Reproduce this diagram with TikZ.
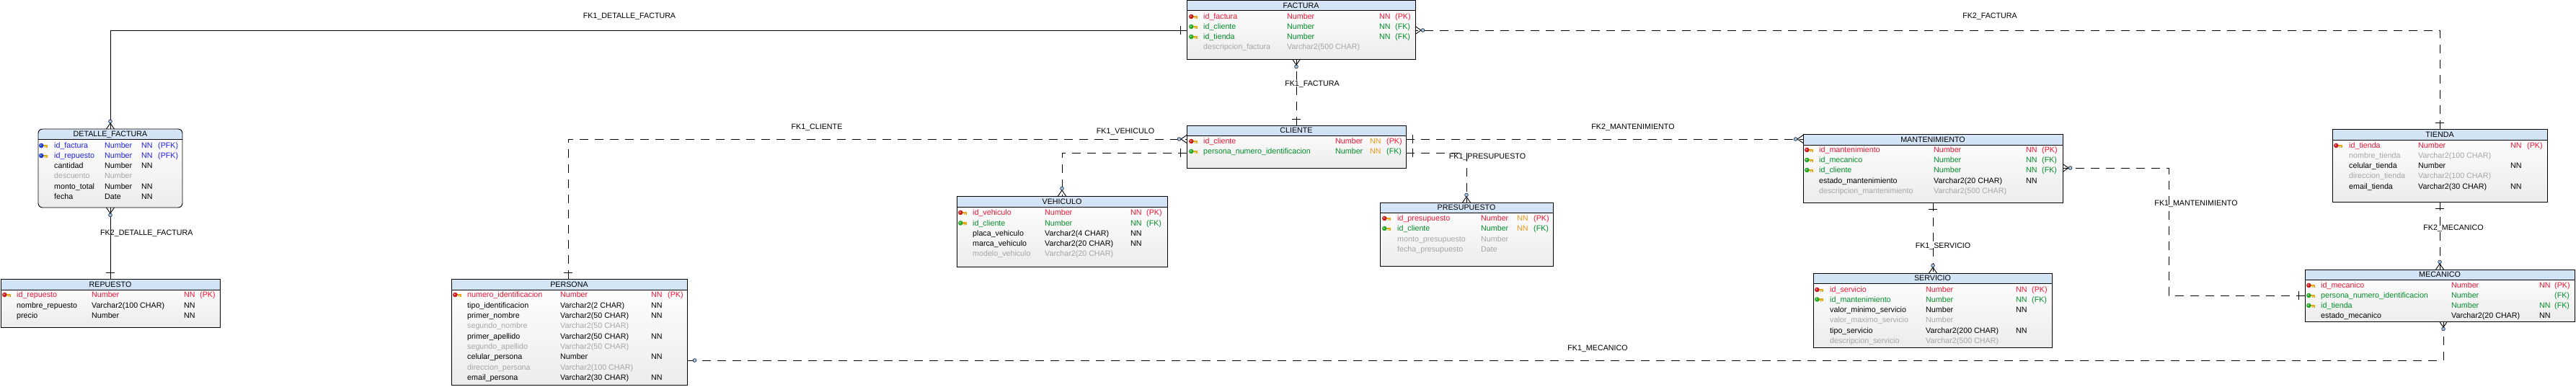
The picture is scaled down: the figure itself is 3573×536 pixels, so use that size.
\documentclass[tikz,border=0pt]{standalone}
\usepackage{fontspec}
\setmainfont{Liberation Sans}
\definecolor{bodybot}{RGB}{236,236,236}
\definecolor{hdtop}{RGB}{214,230,246}
\definecolor{hdbot}{RGB}{176,204,234}
\definecolor{cred}{RGB}{240,20,50}
\definecolor{cgreen}{RGB}{0,140,40}
\definecolor{cblue}{RGB}{30,30,230}
\definecolor{cgray}{RGB}{165,165,165}
\definecolor{corange}{RGB}{235,150,20}
\definecolor{kred}{RGB}{200,30,30}
\definecolor{kgreen}{RGB}{40,170,40}
\definecolor{kblue}{RGB}{30,60,200}
\definecolor{keyshaft}{RGB}{230,170,20}
\definecolor{circfill}{RGB}{160,196,230}
\definecolor{circdraw}{RGB}{50,60,80}
\newcommand\tabfont{\fontsize{10.7}{12}\selectfont}
\newcount\rowc
\tikzset{
 tblnode/.style={draw=none, inner sep=0pt, outer sep=0pt, top color=white, bottom color=bodybot},
 tblline/.style={draw=black, line width=0.95pt},
 hdtext/.style={anchor=base, inner sep=0pt, font=\tabfont, text=black},
 cell/.style={anchor=base west, inner sep=0pt, font=\tabfont},
 lbl/.style={anchor=base, inner sep=0pt, font=\tabfont, text=black},
 rel/.style={draw=black, line width=0.9pt},
 dsh/.style={rel, dash pattern=on 12pt off 9pt},
 endln/.style={draw=black, line width=0.9pt},
 opt/.style={draw=circdraw, fill=circfill, line width=0.7pt},
}
\newcommand\mktable[8]{%
  \node[tblnode, rounded corners=#8pt, minimum width={#4pt-#2pt}, minimum height={#5pt-#3pt}, anchor=north west] (#1) at (#2,#3) {};
  \begin{scope}
    \clip (#2-2,#3-2) rectangle (#4+2,#6);
    \shade[top color=hdtop, bottom color=hdbot, rounded corners=#8pt] (#2,#3) rectangle (#4,#5);
  \end{scope}
  \draw[tblline] (#2,#6) -- (#4,#6);
  \draw[tblline, rounded corners=#8pt] (#2,#3) rectangle (#4,#5);
  \node[hdtext] (#1-t) at ({(#2+#4)/2},{(#3+#6)/2+3.8}) {#7};
}
\newcommand\setcols[5]{\def\cI{#1}\def\cN{#2}\def\cT{#3}\def\cA{#4}\def\cK{#5}}
\newcommand\trow[7]{%
  \if\relax\detokenize{#3}\relax\else
    \fill[keyshaft] (\cI+4,#1-1.3) rectangle (\cI+12,#1+1.3);
    \fill[keyshaft] (\cI+8,#1+1.3) rectangle (\cI+9.4,#1+3.2);
    \fill[keyshaft] (\cI+10.4,#1+1.3) rectangle (\cI+12,#1+2.8);
    \fill[#3] (\cI+3.3,#1) circle (3.3pt);
    \fill[#3!35!white] (\cI+2.6,#1-0.6) circle (1.1pt);
  \fi
  \global\advance\rowc by 1
  \node[cell,text=#2] (r\the\rowc n) at (\cN,#1+3.8) {#4};
  \if\relax\detokenize{#5}\relax\else\node[cell,text=#2] (r\the\rowc t) at (\cT,#1+3.8) {#5};\fi
  \if\relax\detokenize{#6}\relax\else\node[cell,text=#2] (r\the\rowc a) at (\cA,#1+3.8) {#6};\fi
  \if\relax\detokenize{#7}\relax\else\node[cell,text=#2] (r\the\rowc k) at (\cK,#1+3.8) {#7};\fi
}
\newcommand\crow[2]{\begin{scope}[shift={#1}, rotate=#2]
  \draw[endln] (0,-5.5) -- (8,0) -- (0,5.5);
  \draw[opt] (10.5,0) circle (2.4pt);
\end{scope}}
\newcommand\optc[2]{\begin{scope}[shift={#1}, rotate=#2]
  \draw[endln] (0,0) -- (8,0);
  \draw[opt] (10.5,0) circle (2.4pt);
\end{scope}}
\newcommand\parbar[2]{\begin{scope}[shift={#1}, rotate=#2]
  \draw[endln] (9,-6) -- (9,6);
\end{scope}}
\begin{document}
\begin{tikzpicture}[x=1pt,y=-1pt]
\useasboundingbox[fill=white] (0,0) rectangle (3573,536);

% ---------- tables ----------
\mktable{factura}{1646}{0.6}{1963}{82}{14}{FACTURA}{0}
\setcols{1649}{1669}{1785}{1913}{1935}
\trow{23}{cred}{kred}{id\_factura}{Number}{NN}{(PK)}
\trow{37}{cgreen}{kgreen}{id\_cliente}{Number}{NN}{(FK)}
\trow{51}{cgreen}{kgreen}{id\_tienda}{Number}{NN}{(FK)}
\trow{65}{cgray}{}{descripcion\_factura}{Varchar2(500 CHAR)}{}{}

\mktable{detalle}{53}{179}{253}{288}{193}{DETALLE\_FACTURA}{6}
\setcols{54}{75}{145}{196}{219}
\trow{202}{cblue}{kblue}{id\_factura}{Number}{NN}{(PFK)}
\trow{216}{cblue}{kblue}{id\_repuesto}{Number}{NN}{(PFK)}
\trow{230}{black}{}{cantidad}{Number}{NN}{}
\trow{244}{cgray}{}{descuento}{Number}{}{}
\trow{259}{black}{}{monto\_total}{Number}{NN}{}
\trow{273}{black}{}{fecha}{Date}{NN}{}

\mktable{repuesto}{1}{387}{305}{454}{402}{REPUESTO}{0}
\setcols{3}{23}{127}{255}{277}
\trow{409}{cred}{kred}{id\_repuesto}{Number}{NN}{(PK)}
\trow{424}{black}{}{nombre\_repuesto}{Varchar2(100 CHAR)}{NN}{}
\trow{438}{black}{}{precio}{Number}{NN}{}

\mktable{persona}{626}{387}{953}{534}{402}{PERSONA}{0}
\setcols{628}{648}{777}{903}{926}
\trow{409}{cred}{kred}{numero\_identificacion}{Number}{NN}{(PK)}
\trow{423.5}{black}{}{tipo\_identificacion}{Varchar2(2 CHAR)}{NN}{}
\trow{438}{black}{}{primer\_nombre}{Varchar2(50 CHAR)}{NN}{}
\trow{452}{cgray}{}{segundo\_nombre}{Varchar2(50 CHAR)}{}{}
\trow{467}{black}{}{primer\_apellido}{Varchar2(50 CHAR)}{NN}{}
\trow{481}{cgray}{}{segundo\_apellido}{Varchar2(50 CHAR)}{}{}
\trow{495}{black}{}{celular\_persona}{Number}{NN}{}
\trow{510}{cgray}{}{direccion\_persona}{Varchar2(100 CHAR)}{}{}
\trow{524}{black}{}{email\_persona}{Varchar2(30 CHAR)}{NN}{}

\mktable{vehiculo}{1327}{272}{1619}{370}{287}{VEHICULO}{0}
\setcols{1329}{1349}{1449}{1568}{1590}
\trow{295}{cred}{kred}{id\_vehiculo}{Number}{NN}{(PK)}
\trow{309.5}{cgreen}{kgreen}{id\_cliente}{Number}{NN}{(FK)}
\trow{324}{black}{}{placa\_vehiculo}{Varchar2(4 CHAR)}{NN}{}
\trow{338}{black}{}{marca\_vehiculo}{Varchar2(20 CHAR)}{NN}{}
\trow{352}{cgray}{}{modelo\_vehiculo}{Varchar2(20 CHAR)}{}{}

\mktable{cliente}{1646}{174}{1950}{233}{188}{CLIENTE}{0}
\setcols{1649}{1669}{1852}{1900}{1923}
\trow{196}{cred}{kred}{id\_cliente}{Number}{{\color{corange}NN}}{(PK)}
\trow{210}{cgreen}{kgreen}{persona\_numero\_identificacion}{Number}{{\color{corange}NN}}{(FK)}

\mktable{presupuesto}{1914}{281}{2154}{369}{295}{PRESUPUESTO}{0}
\setcols{1917}{1938}{2054}{2104}{2127}
\trow{303}{cred}{kred}{id\_presupuesto}{Number}{{\color{corange}NN}}{(PK)}
\trow{317}{cgreen}{kgreen}{id\_cliente}{Number}{{\color{corange}NN}}{(FK)}
\trow{332}{cgray}{}{monto\_presupuesto}{Number}{}{}
\trow{346}{cgray}{}{fecha\_presupuesto}{Date}{}{}

\mktable{mantenimiento}{2501}{186}{2861}{281}{201}{MANTENIMIENTO}{0}
\setcols{2503}{2523}{2682}{2810}{2832}
\trow{208}{cred}{kred}{id\_mantenimiento}{Number}{NN}{(PK)}
\trow{222}{cgreen}{kgreen}{id\_mecanico}{Number}{NN}{(FK)}
\trow{236}{cgreen}{kgreen}{id\_cliente}{Number}{NN}{(FK)}
\trow{251}{black}{}{estado\_mantenimiento}{Varchar2(20 CHAR)}{NN}{}
\trow{265}{cgray}{}{descripcion\_mantenimiento}{Varchar2(500 CHAR)}{}{}

\mktable{servicio}{2515}{379}{2846}{482}{393}{SERVICIO}{0}
\setcols{2517}{2538}{2671}{2796}{2818}
\trow{402}{cred}{kred}{id\_servicio}{Number}{NN}{(PK)}
\trow{415.5}{cgreen}{kgreen}{id\_mantenimiento}{Number}{NN}{(FK)}
\trow{430}{black}{}{valor\_minimo\_servicio}{Number}{NN}{}
\trow{444}{cgray}{}{valor\_maximo\_servicio}{Number}{}{}
\trow{459}{black}{}{tipo\_servicio}{Varchar2(200 CHAR)}{NN}{}
\trow{473}{cgray}{}{descripcion\_servicio}{Varchar2(500 CHAR)}{}{}

\mktable{tienda}{3235}{179}{3533}{280}{194}{TIENDA}{0}
\setcols{3237}{3258}{3354}{3482}{3505}
\trow{202}{cred}{kred}{id\_tienda}{Number}{NN}{(PK)}
\trow{216}{cgray}{}{nombre\_tienda}{Varchar2(100 CHAR)}{}{}
\trow{230}{black}{}{celular\_tienda}{Number}{NN}{}
\trow{244}{cgray}{}{direccion\_tienda}{Varchar2(100 CHAR)}{}{}
\trow{259}{black}{}{email\_tienda}{Varchar2(30 CHAR)}{NN}{}

\mktable{mecanico}{3197}{374}{3571}{446}{388}{MECANICO}{0}
\setcols{3199}{3219}{3400}{3522}{3543}
\trow{396}{cred}{kred}{id\_mecanico}{Number}{NN}{(PK)}
\trow{410}{cgreen}{kgreen}{persona\_numero\_identificacion}{Number}{}{(FK)}
\trow{424}{cgreen}{kgreen}{id\_tienda}{Number}{NN}{(FK)}
\trow{438}{black}{}{estado\_mecanico}{Varchar2(20 CHAR)}{NN}{}

% ---------- connectors ----------
% FK1_DETALLE_FACTURA
\draw[rel] (factura.west |- 0,42) -| (detalle.north);
\parbar{(factura.west |- 0,42)}{180}
\crow{(detalle.north)}{90}
% FK2_DETALLE_FACTURA
\draw[rel] (repuesto.north) -- (detalle.south);
\parbar{(repuesto.north)}{90}
\crow{(detalle.south)}{-90}
% FK1_FACTURA
\draw[dsh] (cliente.north) -- (factura.south -| cliente.north);
\parbar{(cliente.north)}{90}
\crow{(factura.south -| cliente.north)}{-90}
% FK2_FACTURA
\draw[dsh] (tienda.north) |- (factura.east |- 0,42);
\parbar{(tienda.north)}{90}
\crow{(factura.east |- 0,42)}{0}
% FK1_CLIENTE
\draw[dsh] (persona.north -| 788,0) |- (cliente.west |- 0,193);
\parbar{(persona.north -| 788,0)}{90}
\crow{(cliente.west |- 0,193)}{180}
% FK1_VEHICULO
\draw[dsh] (cliente.west |- 0,212) -| (vehiculo.north);
\parbar{(cliente.west |- 0,212)}{180}
\crow{(vehiculo.north)}{90}
% FK1_PRESUPUESTO
\draw[dsh] (cliente.east |- 0,212) -| (presupuesto.north);
\parbar{(cliente.east |- 0,212)}{0}
\crow{(presupuesto.north)}{90}
% FK2_MANTENIMIENTO
\draw[dsh] (cliente.east |- 0,193) -- (mantenimiento.west |- 0,193);
\parbar{(cliente.east |- 0,193)}{0}
\crow{(mantenimiento.west |- 0,193)}{180}
% FK1_SERVICIO
\draw[dsh] (mantenimiento.south) -- (servicio.north -| mantenimiento.south);
\parbar{(mantenimiento.south)}{-90}
\crow{(servicio.north -| mantenimiento.south)}{90}
% FK1_MANTENIMIENTO
\coordinate (mbend) at (3008,233);
\draw[dsh] (mecanico.west |- 0,410) -| (mbend) -- (mantenimiento.east |- mbend);
\parbar{(mecanico.west |- 0,410)}{180}
\crow{(mantenimiento.east |- mbend)}{0}
% FK2_MECANICO
\draw[dsh] (tienda.south) -- (mecanico.north);
\parbar{(tienda.south)}{-90}
\crow{(mecanico.north)}{90}
% FK1_MECANICO
\draw[dsh] (mecanico.south -| 3389,0) |- (persona.east |- 0,500);
\crow{(mecanico.south -| 3389,0)}{-90}
\optc{(persona.east |- 0,500)}{0}

% ---------- labels ----------
\node[lbl] (l1) at (873,25.8) {FK1\_DETALLE\_FACTURA};
\node[lbl, anchor=base west] (l2) at (139,326.8) {FK2\_DETALLE\_FACTURA};
\node[lbl] (l3) at (1820,119.8) {FK1\_FACTURA};
\node[lbl] (l4) at (2760,25.8) {FK2\_FACTURA};
\node[lbl] (l5) at (1133,179.8) {FK1\_CLIENTE};
\node[lbl] (l6) at (1561,185.8) {FK1\_VEHICULO};
\node[lbl] (l7) at (2265,179.8) {FK2\_MANTENIMIENTO};
\node[lbl] (l8) at (2063,220.8) {FK1\_PRESUPUESTO};
\node[lbl] (l9) at (3046,285.8) {FK1\_MANTENIMIENTO};
\node[lbl] (l10) at (2695,344.8) {FK1\_SERVICIO};
\node[lbl] (l11) at (3403,319.8) {FK2\_MECANICO};
\node[lbl] (l12) at (2216,486.8) {FK1\_MECANICO};
\end{tikzpicture}
\end{document}
